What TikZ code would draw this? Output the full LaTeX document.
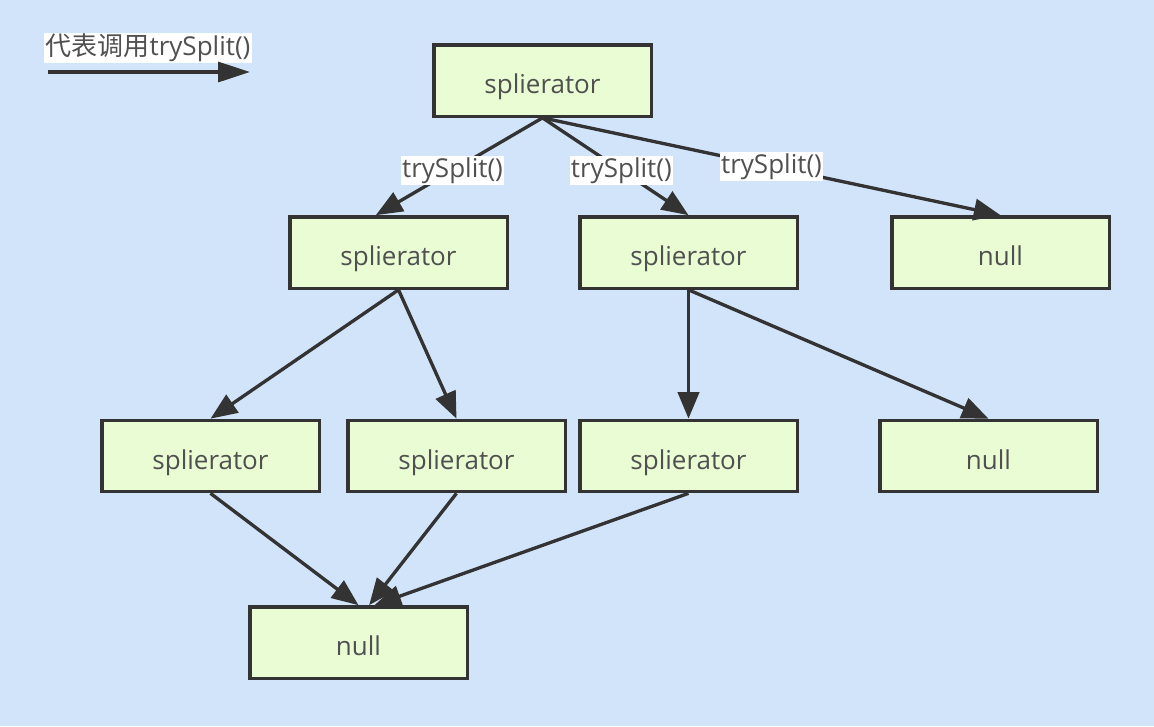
\documentclass[tikz,border=0pt]{standalone}
\usepackage{fontspec}
\setmainfont{Open Sans}
\newfontfamily\cjk{Noto Sans CJK SC}
\usetikzlibrary{arrows.meta}
\definecolor{bgblue}{HTML}{D2E4FA}
\definecolor{boxgreen}{HTML}{E9FCD3}
\definecolor{edgegrey}{HTML}{333333}
\definecolor{textgrey}{HTML}{505050}

\begin{document}
\begin{tikzpicture}[x=0.75pt,y=-0.75pt,line join=miter,
  box/.style={draw=edgegrey,fill=boxgreen,line width=2.5pt,minimum width=163pt,
    minimum height=53.5pt,inner sep=0pt,text=textgrey,text height=20pt,text depth=0pt,
    font=\fontsize{19.5}{22}\selectfont},
  link/.style={draw=edgegrey,line width=2.5pt,-{Triangle[length=20pt,width=16pt]}},
  tag/.style={fill=white,text=textgrey,inner sep=1pt,font=\fontsize{19.5}{22}\selectfont}]
  \fill[bgblue] (0,0) rectangle (1154,726);
  \useasboundingbox (0,0) rectangle (1154,726);
  % legend
  \node[tag,anchor=west] (legend) at (44,48) {{\cjk 代表调用}trySplit()};
  \coordinate (legs) at (48,72);
  \coordinate (lege) at (250,72);
  \draw[link,-{Triangle[length=24pt,width=15pt]}] (legs) -- (lege);
  % boxes
  \node[box] (root) at (542.5,80.5) {splierator};
  \node[box] (s1) at (398.5,252.5) {splierator};
  \node[box] (s2) at (688.5,252.5) {splierator};
  \node[box] (n1) at (1000.5,252.5) {null};
  \node[box] (s11) at (210.5,456) {splierator};
  \node[box] (s12) at (456.5,456) {splierator};
  \node[box] (s21) at (688.5,456) {splierator};
  \node[box] (n2) at (988.5,456) {null};
  \node[box] (n3) at (358.5,642.5) {null};
  % trySplit() calls
  \draw[link] (root.south) -- ([xshift=-17pt]s1.north) node[tag,pos=0.54] {trySplit()};
  \draw[link] (root.south) -- (s2.north) node[tag,pos=0.54] {trySplit()};
  \draw[link] (root.south) -- (n1.north) node[tag,pos=0.5] {trySplit()};
  \draw[link] (s1.south) -- (s11.north);
  \draw[link] (s1.south) -- (s12.north);
  \draw[link] (s2.south) -- (s21.north);
  \draw[link] (s2.south) -- (n2.north);
  \draw[link] (s11.south) -- (n3.north);
  \draw[link] (s12.south) -- ([xshift=8pt]n3.north);
  \draw[link] (s21.south) -- ([xshift=12pt]n3.north);
\end{tikzpicture}
\end{document}
